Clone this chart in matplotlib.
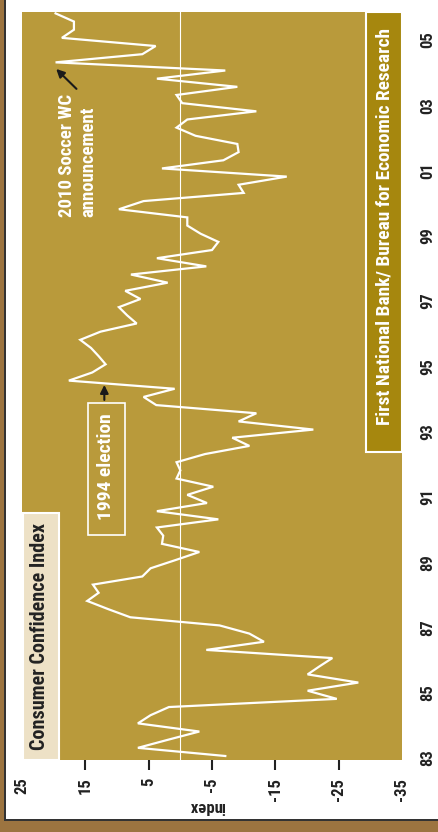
import matplotlib
matplotlib.use("Agg")
import matplotlib.pyplot as plt
from matplotlib.patches import Rectangle
from matplotlib import font_manager
import numpy as np

# ---------------- data ----------------
first_year = 1983
quarters_per_year = 4
cci = [-7.1, 6.7, 1.9, -3.0, 6.7, 4.7, 1.8, -24.7, -20.1, -28.1,
       -20.1, -22.0, -24.0, -4.1, -13.2, -10.9, -6.2, 7.9, 11.4, 14.7,
       12.9, 13.8, 6.0, 4.7, 0.8, -3.0, 2.9, 2.7, 3.7, -6.0,
       3.7, -4.2, -1.1, -5.2, 0.6, 0.0, 0.6, -3.9, -10.9, -8.2,
       -21.0, -9.2, -12.0, 3.8, 5.8, 0.9, 17.6, 13.9, 11.8, 12.9,
       14.1, 15.8, 12.6, 6.9, 8.4, 9.7, 6.3, 8.7, 2.0, 7.8,
       -4.1, 3.7, -5.0, -6.0, -3.2, -1.1, -1.1, 9.7, 5.8, -10.0,
       -9.2, -16.8, 2.9, -6.8, -9.2, -9.0, -2.4, 0.6, -1.1, -12.0,
       -0.3, 0.6, -9.0, 3.7, -7.1, 19.7, 6.0, 3.9, 18.7, 16.8,
       16.8, 19.7]
year_ticks = list(range(1983, 2006, 2))
year_labels = ["83", "85", "87", "89", "91", "93", "95", "97", "99", "01", "03", "05"]
index_ticks = [25, 15, 5, -5, -15, -25, -35]
index_labels = ["25", "15", "5", "-5", "-15", "-25", "-35"]
title_text = "Consumer Confidence Index"
source_text = "First National Bank/ Bureau for Economic Research"
note_wc = "2010 Soccer WC\nannouncement"
note_election = "1994 election"
axis_label = "index"

t = first_year + np.arange(len(cci)) / quarters_per_year + 0.0625

# ---------------- fonts ----------------
def pick(*names):
    for n in names:
        try:
            font_manager.findfont(font_manager.FontProperties(family=n),
                                  fallback_to_default=False)
            return n
        except Exception:
            pass
    return "DejaVu Sans"

FONT = pick("Liberation Sans Narrow", "Roboto Condensed", "Liberation Sans", "Roboto")
plt.rcParams["font.family"] = [FONT, "DejaVu Sans"]
plt.rcParams["font.weight"] = "bold"

# ---------------- colors ----------------
GOLD = "#B99A3B"
SRC = "#A6870E"
BEIGE = "#EDE1C6"
BROWN = "#9C7440"
DARK = "#222222"

W, H = 438, 832
fig = plt.figure(figsize=(W / 100, H / 100), dpi=100, facecolor="white")

# frame (brown strip left and bottom)
fig.add_artist(Rectangle((0, 0), 4 / W, 1, transform=fig.transFigure, color=BROWN, lw=0))
fig.add_artist(Rectangle((0, 0), 1, 11 / H, transform=fig.transFigure, color=BROWN, lw=0))
fig.add_artist(Rectangle((4 / W, 11 / H), 2 / W, 1 - 11 / H, transform=fig.transFigure, color="#333333", lw=0))
fig.add_artist(Rectangle((4 / W, 11 / H), 1, 2 / H, transform=fig.transFigure, color="#333333", lw=0))

ax = fig.add_axes([22 / W, 72 / H, 380 / W, 748 / H])
ax.set_facecolor(GOLD)
for s in ax.spines.values():
    s.set_visible(False)

ax.axvline(0, color="white", lw=0.8, zorder=2)
ax.plot(cci, t, color="white", lw=1.6, zorder=3, solid_joinstyle="miter")

ax.set_xlim(25, -35)
ax.set_ylim(1982.94, 2005.855)

ax.set_xticks(index_ticks)
ax.set_xticklabels(index_labels, rotation=90, fontsize=12, color=DARK, fontweight="bold")
ax.tick_params(axis="x", direction="out", length=7.2, width=1.5, color=DARK, pad=5.5)
xt = ax.xaxis.get_major_ticks()
xt[0].tick1line.set_visible(False)
xt[-1].tick1line.set_visible(False)

ax.yaxis.tick_right()
ax.set_yticks(year_ticks)
ax.set_yticklabels(year_labels, rotation=90, va="center", fontsize=12, color=DARK, fontweight="bold")
ax.tick_params(axis="y", length=0, pad=13.5)

fig.text(207 / W, 1 - 807 / H, axis_label, rotation=180, ha="center", va="center",
         fontsize=12, color=DARK, fontweight="bold")

# title box (bottom-left)
ax.add_patch(Rectangle((0.0026, 0.0), 0.0947, 0.330, transform=ax.transAxes,
                       facecolor=BEIGE, edgecolor="white", lw=1.5, zorder=5, clip_on=False))
title = ax.text(0.045, 0.165, title_text, transform=ax.transAxes, rotation=90,
                ha="center", va="center", fontsize=14, color=DARK, fontweight="bold", zorder=6)

# source box (top-right)
ax.add_patch(Rectangle((0.905, 0.412), 0.095, 0.588, transform=ax.transAxes,
                       facecolor=SRC, edgecolor="white", lw=1.5, zorder=5, clip_on=False))
source = ax.text(0.953, 0.713, source_text, transform=ax.transAxes, rotation=90,
                 ha="center", va="center", fontsize=12, color="white", fontweight="bold", zorder=6)

# 1994 election annotation
ax.add_patch(Rectangle((8.71, 1989.83), 5.89, 4.05, facecolor="none", edgecolor="white",
                       lw=1.2, zorder=4))
elec = ax.text(11.81, 1991.93, note_election, rotation=90, ha="center", va="center",
               fontsize=13, color="white", fontweight="bold", zorder=6)
ax.annotate("", xy=(12.0, 1994.43), xytext=(12.0, 1993.97),
            arrowprops=dict(arrowstyle="-|>", color="#1a1a1a", lw=1.5,
                            mutation_scale=12, shrinkA=0, shrinkB=0), zorder=6)

# 2010 WC annotation
wc = ax.text(16.26, 1999.57, note_wc, rotation=90, ha="center", va="bottom",
             multialignment="left", linespacing=1.25,
             fontsize=13, color="white", fontweight="bold", zorder=6)
ax.annotate("", xy=(19.6, 2004.11), xytext=(16.4, 2003.50),
            arrowprops=dict(arrowstyle="-|>", color="#1a1a1a", lw=1.5,
                            mutation_scale=12, shrinkA=0, shrinkB=0), zorder=6)

# fit text lengths (vertical extents in pixels)
fig.canvas.draw()
r = fig.canvas.get_renderer()
targets = [(title, 227), (source, 397), (elec, 107), (wc, 123)]
for _ in range(2):
    for txt, L in targets:
        h = txt.get_window_extent(r).height
        txt.set_fontsize(txt.get_fontsize() * L / h)
    fig.canvas.draw()

fig.savefig("out.png", dpi=100, facecolor="white")
